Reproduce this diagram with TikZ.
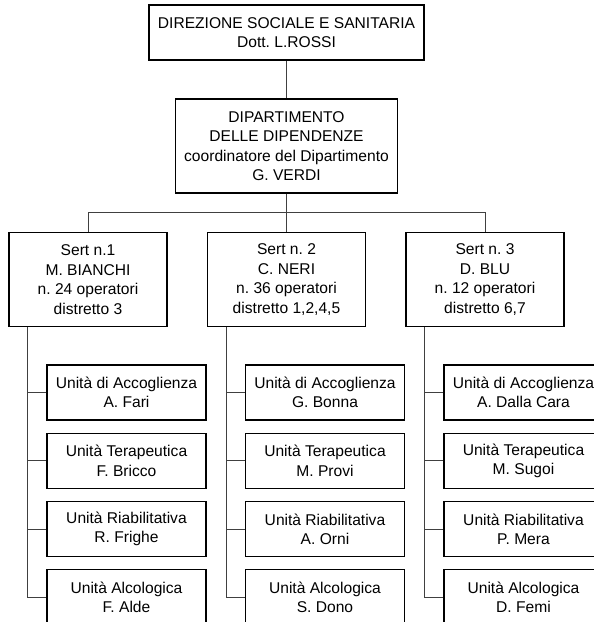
\documentclass[tikz,border=0pt]{standalone}
\usepackage{fontspec}
\setmainfont{Liberation Sans}
\frenchspacing
\usetikzlibrary{positioning,calc}

\begin{document}
\begin{tikzpicture}[x=1pt,y=-1pt,
    boite/.style={draw,line width=1.1pt,inner sep=0pt,align=center,
        font=\fontsize{15.6}{19.5}\selectfont},
    lien/.style={line width=0.8pt,black!75}]
    \useasboundingbox (0,0) rectangle (594,622);
    \clip (0,0) rectangle (594,622);

    % Direction et dipartimento
    \node[boite,minimum width=275pt,minimum height=55pt] (dir) at (286.5,32.5)
        {DIREZIONE SOCIALE E SANITARIA\\Dott. L.ROSSI};
    \node[boite,minimum width=222pt,minimum height=94pt] (dip) at (286.5,146)
        {DIPARTIMENTO\\DELLE DIPENDENZE\\coordinatore del Dipartimento\\G. VERDI};
    \draw[lien] (dir) -- (dip);

    % Sert
    \foreach \i/\txt in {1/{Sert n.1\\M. BIANCHI\\n. 24 operatori\\distretto 3},
                         2/{Sert n. 2\\C. NERI\\n. 36 operatori\\distretto 1,2,4,5},
                         3/{Sert n. 3\\D. BLU\\n. 12 operatori\\distretto 6,7}} {
        \node[boite,minimum width=158pt,minimum height=94pt] (s\i)
            at ({88+198.5*(\i-1)},279.7) {\txt};
    }
    \draw[lien] (dip) -- (s2);
    \draw[lien] (s1.north) |- ($(dip.south)!0.5!(s2.north)$) -| (s3.north);

    % Unita
    \foreach \i/\a/\b/\c/\d in {1/A. Fari/F. Bricco/R. Frighe/F. Alde,
                                2/G. Bonna/M. Provi/A. Orni/S. Dono,
                                3/A. Dalla Cara/M. Sugoi/P. Mera/D. Femi} {
        \foreach \j/\tipo/\nome in {1/di Accoglienza/\a, 2/Terapeutica/\b,
                                    3/Riabilitativa/\c, 4/Alcologica/\d} {
            \node[boite,minimum width=159pt,minimum height=55pt] (u\i-\j)
                at ({126.5+198.5*(\i-1)},{392.5+68.3*(\j-1)}) {Unità \tipo\\\nome};
            \draw[lien] (s\i.south west) ++(19,0) |- (u\i-\j.west);
        }
    }
\end{tikzpicture}
\end{document}
